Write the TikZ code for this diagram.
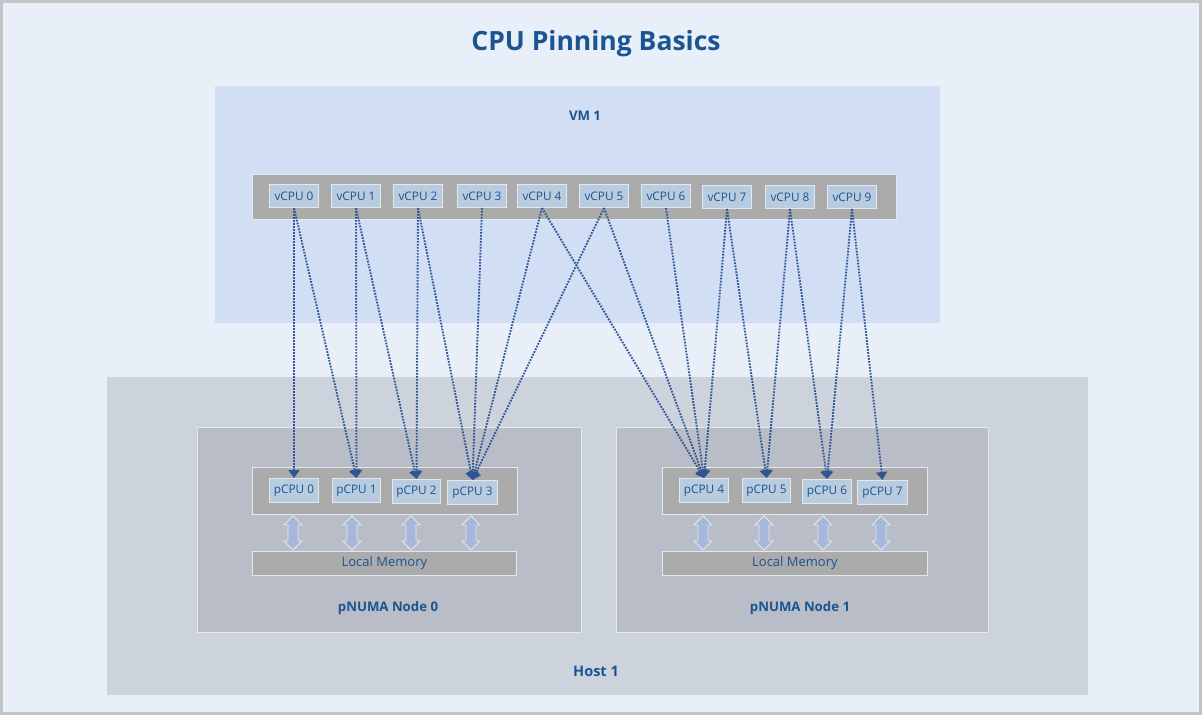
\documentclass[tikz,border=0pt]{standalone}
\usepackage{fontspec}
\setmainfont{Open Sans}
\usetikzlibrary{arrows.meta}
\definecolor{bg}{HTML}{E8EFF9}
\definecolor{frame}{HTML}{C4C4C4}
\definecolor{vmfill}{HTML}{D1DEF3}
\definecolor{hostfill}{HTML}{CDD3DD}
\definecolor{numafill}{HTML}{B9BDC7}
\definecolor{barfill}{HTML}{ABABAB}
\definecolor{lightedge}{HTML}{E2E8F1}
\definecolor{cpufill}{HTML}{B8CBDF}
\definecolor{txt}{HTML}{1B5591}
\definecolor{link}{HTML}{2F5597}
\definecolor{memarr}{HTML}{A5B7DA}
\tikzset{
  panel/.style={anchor=north west, inner sep=0, line width=0.8pt},
  cpubox/.style={anchor=north west, draw=lightedge, fill=cpufill, line width=1pt, inner sep=0,
    minimum width=49pt, minimum height=23pt, text=txt, font=\fontsize{11.8}{13}\selectfont},
  lbl/.style={text=txt, font=\fontsize{13.2}{15}\selectfont\bfseries, inner sep=0},
  pin/.style={draw=link, line width=1.9pt, dash pattern=on 1.7pt off 1.3pt,
    -{Triangle[width=11pt,length=8pt]}},
  memarrow/.pic={\draw[fill=memarr, draw=lightedge, line width=0.8pt]
    (0,-17) -- (9,-8) -- (5,-8) -- (5,8) -- (9,8) -- (0,17) -- (-9,8) -- (-5,8) -- (-5,-8) -- (-9,-8) -- cycle;}
}
\begin{document}
\begin{tikzpicture}[x=1pt,y=-1pt]
\useasboundingbox (0,0) rectangle (1202,715);
\fill[bg] (0,0) rectangle (1202,715);
\draw[frame, line width=3pt] (1.5,1.5) rectangle (1200.5,713.5);

\node[text=txt, font=\fontsize{26.5}{30}\selectfont\bfseries, inner sep=0] (title) at (596,44) {CPU Pinning Basics};

% VM
\node[panel, fill=vmfill, minimum width=725pt, minimum height=237pt] (vm) at (215,86) {};
\node[lbl] (vmlbl) at (585,116) {VM 1};
\node[panel, fill=barfill, draw=lightedge, minimum width=644pt, minimum height=45pt] (vbar) at (252,174) {};
\node[cpubox] (v0) at (269,184) {vCPU 0};
\node[cpubox] (v1) at (331,184) {vCPU 1};
\node[cpubox] (v2) at (393,184) {vCPU 2};
\node[cpubox] (v3) at (457,184) {vCPU 3};
\node[cpubox] (v4) at (517,184) {vCPU 4};
\node[cpubox] (v5) at (579,184) {vCPU 5};
\node[cpubox] (v6) at (641,184) {vCPU 6};
\node[cpubox] (v7) at (702,185) {vCPU 7};
\node[cpubox] (v8) at (765,185) {vCPU 8};
\node[cpubox] (v9) at (827,185) {vCPU 9};

% Host
\node[panel, fill=hostfill, minimum width=981pt, minimum height=318pt] (host) at (107,377) {};
\node[lbl, font=\fontsize{14.5}{17}\selectfont\bfseries] (hostlbl) at (596,671) {Host 1};

\node[panel, fill=numafill, draw=lightedge, minimum width=384pt, minimum height=205pt] (numa0) at (197,427) {};
\node[panel, fill=numafill, draw=lightedge, minimum width=372pt, minimum height=205pt] (numa1) at (616,427) {};
\node[lbl] (n0lbl) at (388,608) {pNUMA Node 0};
\node[lbl] (n1lbl) at (800,608) {pNUMA Node 1};

\node[panel, fill=barfill, draw=lightedge, minimum width=265pt, minimum height=47pt] (pbar0) at (252,467) {};
\node[panel, fill=barfill, draw=lightedge, minimum width=265pt, minimum height=47pt] (pbar1) at (662,467) {};

\node[cpubox, minimum height=24pt] (p0) at (269,478) {pCPU 0};
\node[cpubox, minimum height=24pt, minimum width=48pt] (p1) at (332,478) {pCPU 1};
\node[cpubox, minimum height=24pt, minimum width=48pt] (p2) at (392,479) {pCPU 2};
\node[cpubox, minimum height=24pt, minimum width=50pt] (p3) at (447,480) {pCPU 3};
\node[cpubox, minimum height=24pt] (p4) at (679,478) {pCPU 4};
\node[cpubox, minimum height=24pt, minimum width=48pt] (p5) at (742,478) {pCPU 5};
\node[cpubox, minimum height=24pt] (p6) at (802,479) {pCPU 6};
\node[cpubox, minimum height=24pt, minimum width=50pt] (p7) at (857,480) {pCPU 7};

\node[panel, fill=barfill, draw=lightedge, minimum width=264pt, minimum height=24pt,
      text=txt, font=\fontsize{13}{14}\selectfont] (mem0) at (252,551) {Local Memory};
\node[panel, fill=barfill, draw=lightedge, minimum width=265pt, minimum height=24pt,
      text=txt, font=\fontsize{13}{14}\selectfont] (mem1) at (662,551) {Local Memory};

\pic (ma0) at (293,533) {memarrow};
\pic (ma1) at (352,533) {memarrow};
\pic (ma2) at (411,533) {memarrow};
\pic (ma3) at (471,533) {memarrow};
\pic (ma4) at (703,533) {memarrow};
\pic (ma5) at (764,533) {memarrow};
\pic (ma6) at (823,533) {memarrow};
\pic (ma7) at (881,533) {memarrow};

% pinning connectors
\draw[pin] (v0.south) -- (p0.north);
\draw[pin] (v0.south) -- (p1.north);
\draw[pin] (v1.south) -- (p1.north);
\draw[pin] (v1.south) -- (p2.north);
\draw[pin] (v2.south) -- (p2.north);
\draw[pin] (v2.south) -- (p3.north);
\draw[pin] (v3.south) -- (p3.north);
\draw[pin] (v4.south) -- (p3.north);
\draw[pin] (v4.south) -- (p4.north);
\draw[pin] (v5.south) -- (p3.north);
\draw[pin] (v5.south) -- (p4.north);
\draw[pin] (v6.south) -- (p4.north);
\draw[pin] (v7.south) -- (p4.north);
\draw[pin] (v7.south) -- (p5.north);
\draw[pin] (v8.south) -- (p5.north);
\draw[pin] (v8.south) -- (p6.north);
\draw[pin] (v9.south) -- (p6.north);
\draw[pin] (v9.south) -- (p7.north);
\end{tikzpicture}
\end{document}
